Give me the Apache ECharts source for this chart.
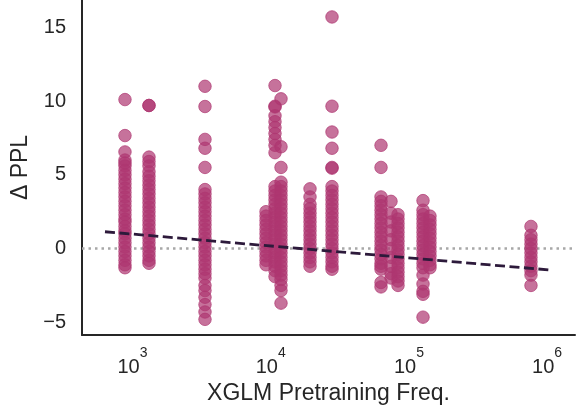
<!DOCTYPE html>
<html><head><meta charset="utf-8">
<script src="https://cdn.jsdelivr.net/npm/echarts@6/dist/echarts.min.js"></script>
<style>html,body{margin:0;padding:0;background:#fff}#c{width:579px;height:407px}</style>
</head><body><div id="c"></div>
<script>
// Pretraining frequency of each column of points
const columnFreqs = [882, 1316, 3346, 9248, 10743, 11872, 19250, 27770, 62840, 74210, 83410, 126500, 142100, 764500];
// Delta PPL values for each column
const col882 = [10.1, 7.66, 6.55, 6.0, 5.8, 5.6, 5.3, 5.0, 4.7, 4.4, 4.1, 3.8, 3.5, 3.2, 2.9, 2.6, 2.3, 2.0, 1.8, 1.5, 1.2, 1.0, 0.7, 0.4, 0.1, -0.2, -0.5, -0.8, -1.1, -1.3];
const col1316 = [9.7, 9.7, 6.2, 5.9, 5.6, 5.2, 4.9, 4.6, 4.3, 4.0, 3.7, 3.4, 3.1, 2.8, 2.5, 2.2, 1.9, 1.6, 1.3, 1.0, 0.7, 0.4, 0.1, -0.2, -0.5, -0.8, -1.0];
const col3346 = [11.0, 9.63, 7.4, 6.8, 5.5, 4.0, 3.7, 3.4, 3.1, 2.8, 2.5, 2.2, 1.9, 1.6, 1.3, 1.0, 0.7, 0.4, 0.1, -0.2, -0.5, -0.8, -1.1, -1.4, -1.7, -2.0, -2.5, -2.85, -3.3, -3.8, -4.3, -4.8];
const col9248 = [2.5, 2.2, 1.9, 1.6, 1.3, 1.0, 0.7, 0.4, 0.1, -0.2, -0.5, -0.8, -1.1];
const col10743 = [11.05, 9.65, 9.6, 9.0, 8.6, 8.2, 7.8, 7.4, 7.0, 6.5, 4.2, 3.9, 3.6, 3.3, 3.0, 2.7, 2.4, 2.1, 1.8, 1.5, 1.2, 0.9, 0.6, 0.3, 0.0, -0.3, -0.6, -0.9, -1.2, -1.5, -1.9];
const col11872 = [10.15, 6.9, 5.5, 4.5, 4.2, 3.9, 3.6, 3.3, 3.0, 2.7, 2.4, 2.1, 1.8, 1.5, 1.2, 0.9, 0.6, 0.3, 0.0, -0.3, -0.6, -0.9, -1.2, -1.5, -1.8, -2.1, -2.5, -2.85, -3.7];
const col19250 = [4.05, 3.5, 3.0, 2.7, 2.4, 2.1, 1.8, 1.5, 1.2, 0.9, 0.6, 0.3, 0.0, -0.3, -0.6, -0.9, -1.2];
const col27770 = [15.7, 9.65, 7.9, 6.8, 5.5, 5.45, 4.2, 3.9, 3.6, 3.3, 3.0, 2.7, 2.4, 2.1, 1.8, 1.5, 1.2, 0.9, 0.6, 0.3, 0.0, -0.3, -0.6, -0.9, -1.2, -1.4];
const col62840 = [7.0, 5.5, 3.5, 3.2, 2.9, 2.6, 2.3, 2.0, 1.7, 1.4, 1.1, 0.8, 0.5, 0.2, -0.1, -0.4, -0.7, -1.0, -1.2, -1.4, -2.3, -2.6];
const col74210 = [3.2, 2.4, 1.8, 1.2, 0.6, 0.0, -0.6, -1.2, -1.7, -2.0];
const col83410 = [2.3, 2.0, 1.7, 1.4, 1.1, 0.8, 0.5, 0.2, -0.1, -0.4, -0.7, -1.0, -1.3, -1.6, -1.9, -2.2, -2.5];
const col126500 = [3.25, 2.6, 2.3, 2.0, 1.7, 1.4, 1.1, 0.8, 0.5, 0.2, -0.1, -0.4, -0.7, -1.0, -1.3, -1.8, -2.4, -2.9, -3.1, -4.65];
const col142100 = [2.2, 1.9, 1.6, 1.3, 1.0, 0.7, 0.4, 0.1, -0.2, -0.5, -0.8, -1.1, -1.3];
const col764500 = [1.5, 0.9, 0.6, 0.3, 0.0, -0.3, -0.6, -0.9, -1.2, -1.5, -1.8, -2.5];
const columnValues = [col882, col1316, col3346, col9248, col10743, col11872, col19250, col27770, col62840, col74210, col83410, col126500, col142100, col764500];
// Fitted trend line endpoints
const fitX = [632, 1067000];
const fitY = [1.14, -1.46];
// Axis ranges and labels
const xRange = [431, 1592000];
const yRange = [-5.86, 16.85];
const xTitle = 'XGLM Pretraining Freq.';
const yTitle = 'Δ PPL';

const points = [];
columnFreqs.forEach((f, i) => columnValues[i].forEach(v => points.push([f, v])));
const fitLine = fitX.map((x, i) => [x, fitY[i]]);

const FONT = "'Liberation Sans', Arial, sans-serif";
const TXT = '#262626';
const chart = echarts.init(document.getElementById('c'), null, {renderer: 'canvas'});
chart.setOption({
  animation: false,
  backgroundColor: '#ffffff',
  grid: {left: 82, right: 4, top: 0, bottom: 72, containLabel: false, outerBoundsMode: 'none'},
  xAxis: {
    type: 'log', logBase: 10, min: xRange[0], max: xRange[1],
    axisLine: {show: true, onZero: false, lineStyle: {color: TXT, width: 2}},
    axisTick: {show: false},
    splitLine: {show: false},
    axisLabel: {
      showMinLabel: false, showMaxLabel: false, margin: 12.5,
      formatter: function (v) {
        const e = Math.log10(v);
        if (Math.abs(e - Math.round(e)) > 1e-6) return '';
        const k = Math.round(e);
        return '{hb|10}{s|' + k + '}\n{b|10}{hs|' + k + '}';
      },
      rich: {
        b: {fontSize: 20, lineHeight: 16, fontFamily: FONT, color: TXT},
        hb: {fontSize: 20, lineHeight: 12, fontFamily: FONT, color: 'rgba(0,0,0,0)'},
        s: {fontSize: 14, lineHeight: 12, fontFamily: FONT, color: TXT},
        hs: {fontSize: 14, lineHeight: 16, fontFamily: FONT, color: 'rgba(0,0,0,0)'}
      }
    },
    name: xTitle, nameLocation: 'middle', nameGap: 44,
    nameTextStyle: {fontSize: 23, fontFamily: FONT, color: TXT}
  },
  yAxis: {
    type: 'value', min: yRange[0], max: yRange[1],
    axisLine: {show: true, onZero: false, lineStyle: {color: TXT, width: 2}},
    axisTick: {show: false},
    splitLine: {show: false},
    axisLabel: {
      showMinLabel: false, showMaxLabel: false, margin: 16,
      fontSize: 20, fontFamily: FONT, color: TXT,
      formatter: function (v) {
        if (Math.abs(v / 5 - Math.round(v / 5)) > 1e-6) return '';
        const r = Math.round(v);
        return r < 0 ? '\u2212' + Math.abs(r) : String(r);
      }
    },
    name: yTitle, nameLocation: 'middle', nameGap: 40, nameRotate: 90,
    nameTextStyle: {fontSize: 23, fontFamily: FONT, color: TXT}
  },
  series: [
    {
      type: 'line', data: [], z: 1, silent: true,
      markLine: {
        z: 1, silent: true, symbol: 'none', label: {show: false},
        lineStyle: {color: '#a8a8a8', width: 2.5, type: [2.5, 4]},
        data: [{yAxis: 0}]
      }
    },
    {
      type: 'scatter', data: points, z: 2, symbol: 'circle', symbolSize: 12.5,
      itemStyle: {color: '#ae3670', borderColor: '#ae3670', borderWidth: 1, opacity: 0.7}
    },
    {
      type: 'line', data: fitLine, z: 3, symbol: 'none', silent: true,
      lineStyle: {color: '#2d1a3b', width: 2.8, type: [10, 4.5]}
    }
  ]
});
</script></body></html>
